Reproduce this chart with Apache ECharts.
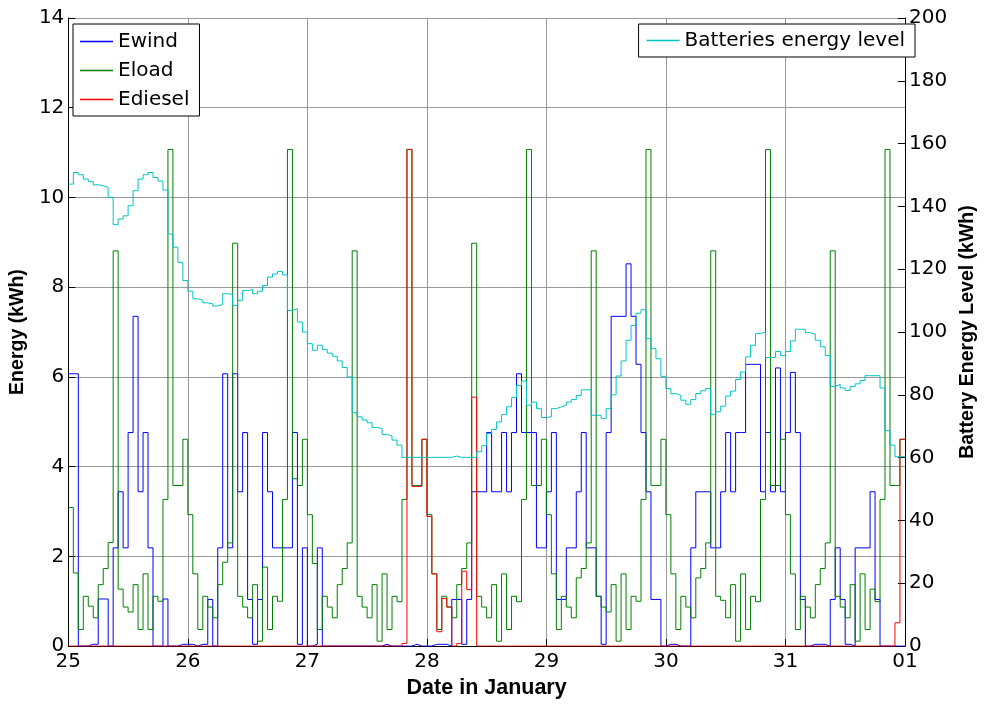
<!DOCTYPE html>
<html>
<head>
<meta charset="utf-8">
<script src="https://cdn.jsdelivr.net/npm/echarts@6/dist/echarts.min.js"></script>
<style>
html,body{margin:0;padding:0;background:#fff;}
#chart{width:986px;height:704px;}
</style>
</head>
<body>
<div id="chart"></div>
<script>
// x-axis tick labels (one per day boundary, hours 0,24,...,168)
const dayLabels = ['25','26','27','28','29','30','31','01'];

// Hourly values, 24 per day, 25..31 January
const ewind = [
  6.07,6.07,0,0,0.04,0.04,1.05,1.05,0,2.19,3.44,2.19,4.76,7.35,3.44,4.76,2.19,0,0,1.05,0,0,0.04,0.04,
  0.04,0,0.04,0.04,1.04,0,2.19,6.07,2.19,6.07,3.44,4.76,1.04,0.04,1.04,4.76,3.44,2.19,2.19,2.19,2.19,4.76,0.04,2.19,
  0,0.04,2.19,0,0,0,0,0,0,0,0,0,0,0,0,0.04,0,0,0,0,0,0.04,0,0,
  0,0.04,0.04,0.04,0,1.04,1.04,0.04,1.04,3.44,3.44,3.44,4.76,3.44,3.44,4.76,3.44,4.76,6.07,4.76,4.76,4.76,2.19,2.19,
  3.44,4.76,1.04,1.04,2.19,2.19,3.44,4.76,2.19,2.19,1.11,0.04,4.76,7.35,7.35,7.35,8.52,7.35,6.28,4.76,3.44,1.04,1.04,0,
  0.04,0.04,0,0,0,2.19,3.44,3.44,3.44,2.19,2.19,3.44,4.76,3.44,4.76,4.76,6.28,6.28,6.28,3.44,4.76,3.44,6.2,3.44,
  4.76,6.1,4.76,1.04,0,0.04,0.04,0.04,0,1.04,2.19,1.04,0.04,0,2.19,2.19,2.19,3.44,1.04,0,0,0,0,0
];
const eload = [
  3.09,1.63,0.37,1.11,0.89,0.63,1.37,1.73,2.31,8.81,1.27,0.87,0.76,1.37,0.37,1.61,0.37,1.11,1.00,3.27,11.07,3.58,3.58,4.61,
  2.93,1.61,0.37,1.11,0.87,0.63,1.37,1.87,2.30,8.98,1.11,0.87,0.63,1.37,0.11,1.76,0.37,1.11,1.00,3.27,11.07,3.73,3.58,4.61,
  2.93,1.84,0.37,1.11,0.87,0.63,1.37,1.73,2.30,8.81,1.11,0.87,0.63,1.37,0.11,1.61,0.37,1.11,0.99,3.27,11.07,3.58,3.58,4.61,
  2.93,1.61,0.37,1.11,0.87,0.63,1.37,1.73,2.30,8.98,1.11,0.87,0.63,1.37,0.11,1.61,0.37,1.11,0.99,3.27,11.07,3.58,3.58,4.61,
  2.93,1.61,0.37,1.11,0.87,0.63,1.52,1.73,2.30,8.81,1.11,0.87,0.76,1.37,0.11,1.61,0.37,1.11,1.00,3.27,11.07,3.58,3.58,4.61,
  2.93,1.61,0.37,1.11,0.87,0.63,1.52,1.73,2.30,8.81,1.11,1.02,0.63,1.37,0.11,1.61,0.37,1.11,0.99,3.27,11.07,3.58,3.58,4.61,
  2.93,1.61,0.37,1.11,0.87,0.63,1.37,1.73,2.30,8.81,1.11,0.87,0.63,1.37,0.11,1.61,0.37,1.27,0.99,3.27,11.07,3.58,3.58,4.61
];
const ediesel = [
  0,0,0,0,0,0,0,0,0,0,0,0,0,0,0,0,0,0,0,0,0,0,0,0,
  0,0,0,0,0,0,0,0,0,0,0,0,0,0,0,0,0,0,0,0,0,0,0,0,
  0,0,0,0,0,0,0,0,0,0,0,0,0,0,0,0,0,0,0,0.06,11.07,3.56,3.56,4.61,
  2.89,1.61,0.32,1.06,0.87,0,0.06,1.67,1.26,5.55,0,0,0,0,0,0,0,0,0,0,0,0,0,0,
  0,0,0,0,0,0,0,0,0,0,0,0,0,0,0,0,0,0,0,0,0,0,0,0,
  0,0,0,0,0,0,0,0,0,0,0,0,0,0,0,0,0,0,0,0,0,0,0,0,
  0,0,0,0,0,0,0,0,0,0,0,0,0,0,0,0,0,0,0,0,0,0,0.52,4.61
];
const battery = [
  147.1,150.8,150.1,148.7,147.9,146.9,146.6,146.0,142.9,134.2,136.0,137.0,140.2,145.0,148.7,150.1,150.8,149.2,148.1,145.2,131.2,127.0,122.2,116.4,
  113.0,110.6,110.1,109.3,109.0,108.3,108.8,112.2,112.0,108.5,110.1,113.2,113.5,112.2,113.0,114.8,117.5,118.5,119.3,118.2,106.9,107.4,103.2,100.0,
  96.3,94.2,95.8,94.4,93.3,92.3,90.8,88.7,85.7,74.3,73.0,72.0,71.1,69.6,69.3,67.4,66.9,65.6,64.0,60.1,60.1,60.1,60.1,60.1,
  60.1,60.1,60.1,60.1,60.1,60.5,60.1,60.1,60.1,60.1,61.9,63.8,67.7,69.0,71.4,73.7,76.2,79.1,83.0,84.4,76.7,77.7,75.6,72.8,
  73.0,75.6,76.2,76.7,77.7,78.5,79.8,81.6,81.6,73.5,73.5,72.5,75.6,80.0,86.0,90.8,97.4,102.1,106.0,107.1,97.9,94.7,91.5,85.9,
  82.0,80.4,79.9,78.3,77.0,78.5,80.4,81.3,82.0,73.8,74.6,76.4,79.6,81.2,84.9,87.3,92.1,95.8,99.5,100.0,91.9,91.9,93.8,92.5,
  93.8,97.2,100.9,100.9,99.8,99.3,97.4,95.3,92.5,82.7,83.3,82.2,81.4,82.7,83.5,84.6,86.1,86.1,86.1,82.2,68.6,64.0,60.3,60.3
];

function toPoints(values) {
  const pts = values.map((v, i) => [i, v]);
  pts.push([values.length, values[values.length - 1]]);
  return pts;
}

const FONT = 'DejaVu Sans';
const chart = echarts.init(document.getElementById('chart'), null, {renderer: 'canvas'});

function lineSeries(name, values, color, yIdx) {
  return {
    name: name, type: 'line', step: 'end', yAxisIndex: yIdx,
    data: toPoints(values), showSymbol: false, symbol: 'none',
    lineStyle: {color: color, width: 1}, itemStyle: {color: color},
    emphasis: {disabled: true}
  };
}

chart.setOption({
  animation: false,
  backgroundColor: '#fff',
  textStyle: {fontFamily: FONT, color: '#000'},
  grid: {left: 67, right: 70, top: 18, bottom: 53, containLabel: false},
  legend: [
    {
      data: ['Ewind', 'Eload', 'Ediesel'],
      orient: 'vertical', left: 73, top: 24,
      icon: 'rect', itemWidth: 33, itemHeight: 1.5, itemGap: 9,
      padding: [7.5, 10, 6.5, 7],
      backgroundColor: '#fff', borderColor: '#000', borderWidth: 1, borderRadius: 0,
      textStyle: {fontFamily: FONT, fontSize: 20, color: '#000', lineHeight: 20},
      selectedMode: false
    },
    {
      data: ['Batteries energy level'],
      orient: 'vertical', right: 71, top: 24,
      icon: 'rect', itemWidth: 33, itemHeight: 1.5,
      padding: [6.5, 10, 6.5, 8],
      backgroundColor: '#fff', borderColor: '#000', borderWidth: 1, borderRadius: 0,
      textStyle: {fontFamily: FONT, fontSize: 20, color: '#000', lineHeight: 20},
      selectedMode: false
    }
  ],
  xAxis: {
    type: 'value', min: 0, max: 168, interval: 24,
    name: 'Date in January', nameLocation: 'middle', nameGap: 29,
    nameTextStyle: {fontFamily: 'Liberation Sans', fontSize: 21.5, fontWeight: 'bold', color: '#000'},
    axisLine: {show: true, onZero: false, lineStyle: {color: '#000', width: 1}},
    axisTick: {show: true, inside: true, length: 7, lineStyle: {color: '#000'}},
    axisLabel: {
      fontFamily: FONT, fontSize: 20, color: '#000', margin: 6,
      formatter: function (v) { return dayLabels[Math.round(v / 24)]; }
    },
    splitLine: {show: true, lineStyle: {color: '#999', width: 1}}
  },
  yAxis: [
    {
      type: 'value', min: 0, max: 14, interval: 2, position: 'left',
      name: 'Energy (kWh)', nameLocation: 'middle', nameGap: 39, nameRotate: 90,
      nameTextStyle: {fontFamily: 'Liberation Sans', fontSize: 19.5, fontWeight: 'bold', color: '#000'},
      axisLine: {show: true, lineStyle: {color: '#000', width: 1}},
      axisTick: {show: true, inside: true, length: 7, lineStyle: {color: '#000'}},
      axisLabel: {fontFamily: FONT, fontSize: 20, color: '#000', margin: 4},
      splitLine: {show: true, lineStyle: {color: '#999', width: 1}}
    },
    {
      type: 'value', min: 0, max: 200, interval: 20, position: 'right',
      name: 'Battery Energy Level (kWh)', nameLocation: 'middle', nameGap: 47, nameRotate: 90,
      nameTextStyle: {fontFamily: 'Liberation Sans', fontSize: 19.5, fontWeight: 'bold', color: '#000'},
      axisLine: {show: true, lineStyle: {color: '#000', width: 1}},
      axisTick: {show: true, inside: true, length: 7, lineStyle: {color: '#000'}},
      axisLabel: {fontFamily: FONT, fontSize: 20, color: '#000', margin: 4},
      splitLine: {show: false}
    }
  ],
  series: [
    lineSeries('Ewind', ewind, '#0000ff', 0),
    lineSeries('Eload', eload, '#008000', 0),
    lineSeries('Ediesel', ediesel, '#ff0000', 0),
    lineSeries('Batteries energy level', battery, '#00c4c4', 1)
  ]
});
</script>
</body>
</html>
